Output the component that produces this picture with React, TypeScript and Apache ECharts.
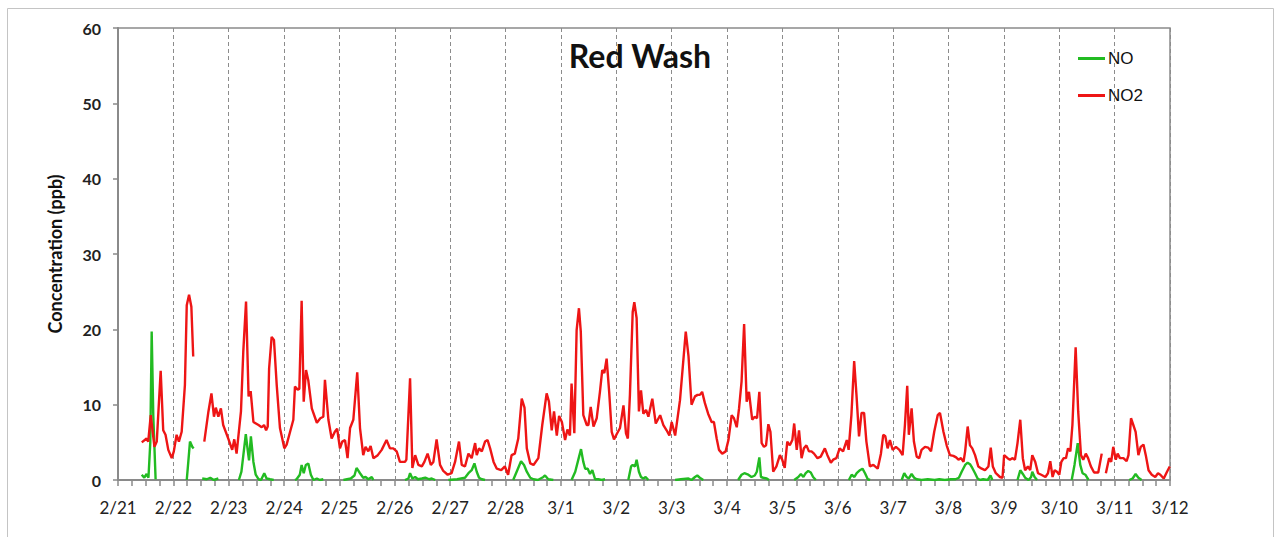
import React, { useEffect, useRef } from "react";
import * as echarts from "echarts";

// Day labels of the x axis (one per day, 2/21 .. 3/12)
const DATE_LABELS = [
  "2/21", "2/22", "2/23", "2/24", "2/25", "2/26", "2/27", "2/28",
  "3/1", "3/2", "3/3", "3/4", "3/5", "3/6", "3/7", "3/8", "3/9", "3/10", "3/11", "3/12",
];
const HOURS_PER_DAY = 24;
const Y_MIN = 0;
const Y_MAX = 60;
const Y_STEP = 10;

const TITLE = "Red Wash";
const Y_NAME = "Concentration (ppb)";
const SERIES_NAMES = ["NO", "NO2"];

// [hours since 2/21 00:00, ppb]; null = missing data (gap)
const NO_READINGS: [number, number | null][] = [
  [10.3, 0.7], [11.4, 0.3], [12.4, 0.8], [13.2, 0.3], [14, 5], [14.6, 19.7], [15.3, 8.5], [16.3, 0.1], [17, null],
  [29.8, 0], [30.5, 2.5], [31.2, 5.1], [32.2, 4.4], [32.8, 4.2], [34, null],
  [36.5, 0.2], [38.5, 0.1], [40, 0.3], [41.5, 0], [43.5, 0.2], [45, null],
  [52.4, 0], [53.5, 1.1], [55.4, 6.1], [56.2, 4.0], [56.8, 2.6], [57.6, 5.8], [58.7, 2.4], [59.7, 0.7], [60.9, 0.1], [62, 0], [63.4, 0.9], [64.4, 0.2], [65.9, 0.1], [67.5, 0], [69, null],
  [76.7, 0], [77.4, 0.1], [78.8, 0.7], [79.6, 2.0], [80.5, 0.9], [81.4, 2.0], [82.5, 2.2], [83.6, 0.7], [84.7, 0], [86.2, 0.2], [87.5, 0], [89, 0.1], [90.5, null],
  [97.7, 0], [100.9, 0.2], [102.5, 0.6], [103.4, 1.6], [104.9, 0.9], [106.3, 0.3], [107.3, 0.4], [108.5, 0.1], [110, 0.4], [110.7, 0], [112, null],
  [124.4, 0], [125.9, 0.2], [126.6, 0.9], [127.6, 0.2], [128.8, 0.4], [130, 0.1], [131.7, 0.2], [133.2, 0.3], [134.9, 0.1], [136, 0.2], [137.5, 0], [139, null],
  [143.2, 0], [147, 0.1], [150.4, 0.3], [151.9, 0.9], [153.3, 1.3], [154.5, 2.2], [155.5, 1.1], [156.5, 0.3], [157.7, 0.1], [159.1, 0], [160.5, null],
  [171.3, 0], [172.8, 1.1], [174.7, 2.5], [176, 2.0], [177.2, 1.1], [178.7, 0.3], [180.1, 0.1], [182, 0], [184.4, 0.4], [185.1, 0.6], [186.5, 0.1], [188.7, 0], [190, null],
  [196.6, 0], [198.2, 1.1], [199.7, 2.9], [200.7, 4.1], [201.7, 2.4], [202.5, 1.5], [203.6, 1.5], [204.6, 0.8], [205.6, 1.3], [206.8, 0.1], [208.2, 0.1], [209.7, 0], [211.1, 0.1], [213, null],
  [221.2, 0], [222.4, 1.8], [223.1, 2.0], [224.1, 1.8], [224.8, 2.7], [225.8, 1.1], [226.7, 0.4], [227.7, 0.2], [228.7, 0.4], [229.9, 0], [231, null],
  [241.5, 0], [244, 0.1], [247.3, 0.2], [248.6, 0], [250.1, 0.4], [251.1, 0.6], [252.2, 0.3], [253.7, 0], [255, null],
  [268.8, 0], [270.3, 0.7], [271.5, 0.9], [273.2, 0.7], [274.6, 0.4], [276, 0.6], [276.9, 1.1], [278, 3.0], [278.7, 0.4], [279.7, 0.3], [281.2, 0.2], [282.2, 0], [283.5, null],
  [293.1, 0], [294.9, 0.4], [296, 0.8], [297.1, 0.4], [298.1, 0.9], [299.2, 1.2], [300.3, 1.0], [301.3, 0.4], [302.5, 0], [304, null],
  [316.8, 0], [318, 0.7], [319.2, 0.4], [320.2, 0.9], [321.6, 1.3], [322.7, 1.5], [323.8, 0.9], [325, 0.1], [326, 0], [327.5, null],
  [339.7, 0], [340.8, 0.9], [341.8, 0.4], [342.8, 0.2], [344, 0.8], [345.1, 0.3], [346.2, 0.1], [348.3, 0], [351, 0.1], [354, 0], [356, 0.1], [358.4, 0],
  [361, 0.1], [363, 0.1], [364.5, 0.3], [365.7, 1.1], [367.2, 2.0], [368.3, 2.3], [369.3, 2.1], [370.3, 1.6], [371.5, 0.9], [372.6, 0.2], [373.7, 0], [375, 0.1], [377, 0], [378.2, 0.6], [379, 0], [380, null],
  [389.9, 0], [391.1, 1.3], [392.2, 0.8], [393.2, 0.3], [394.7, 0], [395.8, 0.4], [396.3, 1.1], [397.3, 0.4], [398.4, 0], [400, null],
  [413.4, 0], [414.6, 2.0], [416, 4.9], [417.1, 2.0], [418.1, 0.9], [419.3, 0.7], [420.7, 0], [422, null],
  [438.3, 0], [439.8, 0.2], [441.1, 0.8], [442.3, 0.3], [443.7, 0],
];

const NO2_READINGS: [number, number | null][] = [
  [10.3, 5.0], [12.4, 5.5], [13.1, 5.1], [14.2, 8.6], [15.8, 4.4], [16.8, 5.1], [18.5, 14.5], [19.6, 6.6], [20.6, 6.0], [21.8, 4.0],
  [23.3, 2.9], [24.2, 3.8], [25.4, 6.0], [26.4, 5.1], [27.6, 6.4], [29, 12.6], [29.8, 23.2], [30.8, 24.6], [31.8, 23], [32.6, 16.4],
  [35, null],
  [37.4, 5.1], [39.2, 9.1], [40.5, 11.5], [41.6, 8.4], [42.4, 9.6], [43.5, 8.4], [44.6, 9.5], [45.6, 7.3], [47.8, 5.5], [49.5, 4.0],
  [50.4, 5.4], [51.4, 3.5], [53.3, 9.1], [54.3, 17], [55.5, 23.7], [56.6, 11.1], [57.5, 11.8], [58.7, 7.7], [60.9, 7.3], [62.3, 7.0],
  [63.3, 7.3], [64.2, 6.6], [64.9, 7.1], [65.5, 14.8], [66.6, 19.0], [67.6, 18.6], [68.8, 12.6], [70.2, 6.9], [72.1, 4.2], [73.1, 4.7],
  [74.6, 6.4], [76, 8.0], [76.7, 12.4], [77.9, 12.0], [78.6, 12.1], [79.6, 23.8], [80.5, 10.4], [81.5, 14.6], [82.5, 13.2], [84, 9.5],
  [85.5, 8.2], [86.2, 7.6], [87.7, 8.2], [89, 8.4], [89.7, 13.3], [91.2, 8.0], [92.6, 5.5], [94, 6.4], [95, 6.8], [96.2, 4.2],
  [97.2, 5.1], [98.4, 5.3], [99.5, 2.9], [100.6, 6.9], [102, 8.0], [103.7, 14.3], [104.9, 6.9], [106.3, 3.3], [107.3, 4.4], [108.5, 3.8],
  [109.5, 4.5], [110.7, 2.9], [112.6, 3.3], [114.3, 4.0], [116.4, 5.3], [117.9, 4.2], [119.3, 4.2], [120.8, 3.8], [122.2, 2.4], [124.4, 2.4],
  [125, 2.7], [126.6, 13.5], [127.6, 1.6], [128.8, 3.3], [130.2, 2.0], [131.7, 1.8], [132.8, 2.4], [134.2, 3.5], [135.6, 2.0], [136.7, 2.4],
  [138.1, 5.4], [139.6, 2.0], [141, 1.2], [142.9, 0.7], [144.6, 0.9], [146.1, 2.4], [147.8, 5.1], [149, 2.0], [150.4, 1.8], [151.9, 3.5],
  [153.3, 2.9], [154.8, 4.9], [155.5, 3.3], [156.5, 4.2], [157.7, 3.8], [159.1, 5.1], [160.2, 5.3], [161.3, 4.2], [162.8, 2.4], [164.2, 1.5],
  [166.1, 1.3], [167.7, 1.8], [169.1, 0.7], [170.6, 3.3], [172, 3.5], [173.5, 5.5], [175, 10.8], [176.2, 9.6], [177.2, 4.2], [178.7, 2.2],
  [180.1, 2.0], [182.2, 2.9], [183.9, 7.3], [185.8, 11.5], [186.8, 10.4], [188, 6.6], [189, 9.1], [190.2, 5.9], [191.2, 8.5], [192.4, 7.7],
  [193.8, 5.3], [194.8, 6.7], [195.9, 5.9], [196.6, 12.8], [197.8, 6.2], [198.8, 19.9], [199.8, 22.8], [200.6, 19.7], [201.7, 8.6], [203.2, 7.3],
  [203.9, 7.3], [204.9, 9.7], [206.1, 7.1], [207.5, 8.2], [208.9, 11.7], [209.9, 14.6], [210.8, 14.2], [211.8, 16.1], [212.9, 11.7], [214, 6.4],
  [215, 5.4], [216.2, 6.1], [217.6, 6.9], [219.1, 9.9], [220.2, 6.2], [221, 5.5], [221.9, 11.3], [223.1, 22.3], [223.8, 23.6], [224.8, 21.5],
  [225.8, 9.1], [226.7, 11.9], [227.7, 8.8], [228.9, 9.3], [229.9, 8.4], [231.6, 10.8], [233.1, 7.5], [235, 8.6], [236.4, 7.3], [237.8, 6.6],
  [239, 5.9], [240, 7.7], [241.5, 5.9], [243.6, 10.6], [246.1, 19.7], [247.3, 16.4], [248.6, 10.0], [250.1, 11.1], [251.2, 11.3], [252.2, 11.3],
  [253.2, 11.7], [254.4, 10.2], [255.8, 8.8], [257.3, 7.7], [258.3, 7.7], [259.5, 5.5], [260.5, 4.0], [261.9, 3.5], [263.4, 3.8], [264.6, 5.3],
  [266, 8.6], [267, 8.2], [268.2, 7.0], [269.2, 9.5], [270.3, 13.1], [271.4, 20.7], [272.5, 10.4], [273.5, 11.7], [274.9, 8.0], [276, 8.4],
  [277, 8.2], [278, 11.7], [279, 4.9], [280, 4.4], [280.9, 4.6], [281.9, 7.4], [282.8, 6.4], [284, 1.1], [285.4, 1.8], [286.9, 3.3],
  [287.9, 2.7], [289, 1.6], [290.1, 5.1], [291.2, 4.6], [292.3, 5.3], [293.1, 7.5], [294.2, 4.0], [295.2, 6.6], [296.3, 2.9], [297.3, 4.2],
  [298.4, 4.6], [299.5, 3.8], [300.6, 3.8], [301.7, 3.5], [303.2, 2.9], [304.6, 3.1], [306.4, 4.2], [307.5, 3.3], [309, 2.3], [310, 2.7],
  [311.4, 2.9], [312.8, 4.2], [314.3, 3.8], [315.9, 5.3], [316.7, 4.0], [317.9, 8.6], [319.1, 15.8], [320.1, 11.3], [321.2, 5.8], [322.3, 8.9],
  [323.4, 8.9], [324.4, 5.1], [325.9, 1.8], [327.4, 2.0], [329.3, 1.5], [330.7, 3.5], [331.7, 6.0], [332.6, 5.8], [333.6, 4.2], [334.6, 5.3],
  [335.8, 4.0], [337.2, 4.4], [338.7, 4.0], [340.1, 3.3], [341.1, 7.3], [342.1, 12.5], [342.8, 6.0], [344, 9.5], [345, 5.1], [346.2, 3.1],
  [347.3, 2.9], [348.3, 4.0], [349.8, 4.4], [351.2, 4.3], [352.4, 3.8], [353.8, 6.4], [355.3, 8.6], [356.3, 8.9], [357.8, 6.4], [359.2, 4.6],
  [360.6, 3.3], [362.1, 3.2], [363.3, 3.0], [364.3, 2.7], [365.4, 2.9], [366.5, 2.4], [367.2, 3.8], [368.3, 7.1], [369.3, 4.6], [370.3, 4.2],
  [371.5, 3.3], [372.9, 1.8], [374.4, 1.5], [375.8, 1.3], [377.3, 1.8], [378.3, 4.3], [379.2, 1.8], [380.5, 0.9], [382.3, 0.4], [383.4, 0.3],
  [384.1, 3.3], [385.6, 2.9], [386.6, 2.7], [387.6, 2.9], [388.8, 2.7], [389.9, 4.9], [391.1, 8.0], [392.2, 2.9], [393.2, 1.3], [394.4, 1.8],
  [395.4, 1.3], [396.3, 3.3], [397.6, 2.4], [398.8, 0.9], [400.2, 0.7], [402, 0.4], [403.1, 0.9], [404.1, 2.5], [405.1, 0.4], [406, 1.3],
  [407, 1.1], [408, 0.7], [408.9, 2.4], [409.9, 2.9], [410.9, 2.9], [411.8, 4.2], [412.8, 3.8], [413.7, 7.3], [415.1, 17.6], [416.2, 9.1],
  [417.4, 3.3], [418.4, 2.7], [419.5, 3.5], [420.5, 2.9], [421.7, 1.8], [423.1, 1.0], [424.9, 1.0], [426.4, 3.5],
  [427.3, null],
  [428.2, 0.9], [429.6, 2.9], [430.5, 2.4], [431.4, 4.4], [432.5, 2.7], [433.3, 3.5], [434.3, 2.9], [435.8, 2.9], [437.2, 2.5], [438, 3.3],
  [439.1, 8.2], [440.1, 7.3], [441.1, 6.4], [442.3, 3.3], [443.3, 4.4], [444.5, 4.7], [445.5, 3.3], [446.7, 1.3], [448.1, 0.7], [449.6, 0.4],
  [450.8, 0.9], [451.8, 0.7], [453.3, 0.2], [454.7, 1.1], [455.9, 1.8],
];

const NO_COLOR = "#22bb22";
const NO2_COLOR = "#ee1515";
const AXIS_GRAY = "#8a8a8a";
const FONT = "Lato, 'Open Sans', 'DejaVu Sans', sans-serif";

export default function App() {
  const ref = useRef<HTMLDivElement>(null);

  useEffect(() => {
    if (!ref.current) return;
    const chart = echarts.init(ref.current, null, { renderer: "svg" });
    const xMax = (DATE_LABELS.length - 1) * HOURS_PER_DAY;
    chart.setOption({
      animation: false,
      backgroundColor: "#ffffff",
      textStyle: { fontFamily: FONT },
      title: {
        text: TITLE,
        left: 635,
        top: 34,
        textAlign: "center",
        textStyle: { fontFamily: FONT, fontSize: 32, fontWeight: "bold", color: "#111" },
      },
      legend: {
        data: SERIES_NAMES,
        orient: "vertical",
        left: 1073,
        top: 45,
        itemGap: 20,
        itemWidth: 27,
        itemHeight: 3,
        icon: "rect",
        textStyle: {
          fontFamily: "'Liberation Sans Narrow', 'Arial Narrow', 'Liberation Sans', sans-serif",
          fontSize: 17,
          color: "#111",
          padding: [0, 0, 0, -2],
        },
      },
      graphic: [
        {
          type: "rect",
          silent: true,
          shape: { x: 7.5, y: 8.5, width: 1266, height: 545 },
          style: { fill: "none", stroke: "#c4c4c4", lineWidth: 1 },
        },
      ],
      grid: {
        left: 118,
        top: 28,
        right: 105,
        bottom: 57,
        show: true,
        borderColor: AXIS_GRAY,
        borderWidth: 1.5,
      },
      xAxis: {
        type: "value",
        min: 0,
        max: xMax,
        interval: HOURS_PER_DAY,
        axisLine: { show: true, onZero: false, lineStyle: { color: AXIS_GRAY, width: 2 } },
        axisTick: { show: true, length: 6, lineStyle: { color: AXIS_GRAY, width: 1.5 } },
        minorTick: { show: true, splitNumber: 4, length: 6, lineStyle: { color: AXIS_GRAY, width: 1.5 } },
        splitLine: { show: true, lineStyle: { color: "#8c8c8c", width: 1, type: [4, 3] } },
        minorSplitLine: { show: false },
        axisLabel: {
          margin: 19,
          fontSize: 17,
          color: "#222",
          fontFamily: FONT,
          formatter: (v: number) => DATE_LABELS[Math.round(v / HOURS_PER_DAY)] ?? "",
        },
      },
      yAxis: {
        type: "value",
        min: Y_MIN,
        max: Y_MAX,
        interval: Y_STEP,
        name: Y_NAME,
        nameLocation: "middle",
        nameGap: 54,
        nameTextStyle: { fontFamily: FONT, fontSize: 18, fontWeight: "bold", color: "#111" },
        axisLine: { show: true, lineStyle: { color: AXIS_GRAY, width: 2 } },
        axisTick: { show: true, length: 5, lineStyle: { color: AXIS_GRAY, width: 1.5 } },
        splitLine: { show: false },
        axisLabel: { margin: 17, fontSize: 16, fontWeight: "bold", color: "#222", fontFamily: FONT },
      },
      series: [
        {
          name: SERIES_NAMES[0],
          type: "line",
          data: NO_READINGS,
          showSymbol: false,
          connectNulls: false,
          color: NO_COLOR,
          lineStyle: { color: NO_COLOR, width: 2.4 },
        },
        {
          name: SERIES_NAMES[1],
          type: "line",
          data: NO2_READINGS,
          showSymbol: false,
          connectNulls: false,
          color: NO2_COLOR,
          lineStyle: { color: NO2_COLOR, width: 2.4 },
        },
      ],
    });
    return () => chart.dispose();
  }, []);

  return (
    <div style={{ position: "fixed", left: 0, top: 0, width: 1275, height: 537, background: "#fff" }}>
      <div ref={ref} style={{ width: 1275, height: 537 }} />
    </div>
  );
}
